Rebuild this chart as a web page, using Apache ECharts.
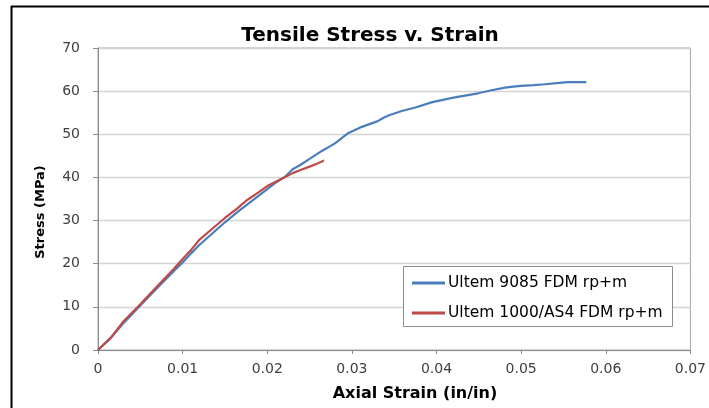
<!DOCTYPE html>
<html>
<head>
<meta charset="utf-8">
<script src="https://cdn.jsdelivr.net/npm/echarts@6/dist/echarts.min.js"></script>
<style>
html,body{margin:0;padding:0;background:#fff;overflow:hidden;}
#chart{width:709px;height:408px;}
</style>
</head>
<body>
<div id="chart"></div>
<script>
// Data
const titleText = 'Tensile Stress v. Strain';
const xAxisTitle = 'Axial Strain (in/in)';
const yAxisTitle = 'Stress (MPa)';
const seriesNames = ['Ultem 9085 FDM rp+m', 'Ultem 1000/AS4 FDM rp+m'];

const ultem9085Strain = [0, 0.0015, 0.003, 0.005, 0.007, 0.009, 0.010, 0.011, 0.012, 0.0135, 0.015, 0.0165, 0.0175, 0.019, 0.020, 0.021, 0.022, 0.023, 0.024, 0.025, 0.0265, 0.028, 0.0296, 0.031, 0.032, 0.033, 0.0338, 0.0344, 0.0359, 0.0375, 0.0394, 0.0402, 0.042, 0.0449, 0.0465, 0.0481, 0.0488, 0.050, 0.0515, 0.0528, 0.0545, 0.0555, 0.0577];
const ultem9085Stress = [0, 2.8, 6.2, 10.3, 14.4, 18.4, 20.3, 22.4, 24.4, 27.0, 29.6, 32.0, 33.5, 35.8, 37.3, 38.8, 40.0, 41.9, 43.0, 44.3, 46.2, 47.9, 50.3, 51.6, 52.3, 53.0, 53.9, 54.4, 55.4, 56.2, 57.4, 57.75, 58.5, 59.5, 60.2, 60.8, 61.0, 61.2, 61.4, 61.6, 61.9, 62.1, 62.1];

const ultem1000Strain = [0, 0.0015, 0.003, 0.005, 0.007, 0.009, 0.010, 0.011, 0.012, 0.0135, 0.015, 0.0165, 0.0175, 0.019, 0.020, 0.021, 0.022, 0.023, 0.024, 0.025, 0.026, 0.0267];
const ultem1000Stress = [0, 2.8, 6.6, 10.6, 14.8, 18.9, 21.1, 23.2, 25.6, 28.1, 30.6, 32.9, 34.6, 36.6, 38.0, 39.0, 40.0, 41.0, 41.8, 42.5, 43.3, 43.9];

const xTicks = {min: 0, max: 0.07, interval: 0.01};
const yTicks = {min: 0, max: 70, interval: 10};

const pair = (xs, ys) => xs.map((x, i) => [x, ys[i]]);

const chart = echarts.init(document.getElementById('chart'), null, {renderer: 'canvas'});
const labelFont = '"DejaVu Sans", sans-serif';

chart.setOption({
  animation: false,
  backgroundColor: '#ffffff',
  title: {
    text: titleText,
    left: 365, top: 21, textAlign: 'center',
    textStyle: {fontFamily: labelFont, fontSize: 20, fontWeight: 'bold', color: '#000'}
  },
  grid: {left: 98, right: 15, top: 48, bottom: 58, show: true, borderColor: '#a6a6a6', borderWidth: 1, backgroundColor: 'transparent'},
  xAxis: {
    type: 'value', min: xTicks.min, max: xTicks.max, interval: xTicks.interval,
    axisLine: {show: true, lineStyle: {color: '#8c8c8c', width: 1}},
    axisTick: {show: true, length: 4, lineStyle: {color: '#8c8c8c'}},
    splitLine: {show: false},
    axisLabel: {
      color: '#404040', fontFamily: labelFont, fontSize: 14, margin: 12,
      formatter: v => (Math.round(v * 100) / 100).toString()
    }
  },
  yAxis: {
    type: 'value', min: yTicks.min, max: yTicks.max, interval: yTicks.interval,
    axisLine: {show: true, lineStyle: {color: '#8c8c8c', width: 1}},
    axisTick: {show: true, length: 5, lineStyle: {color: '#8c8c8c'}},
    splitLine: {show: true, lineStyle: {color: '#d4d4d4', width: 1.3}},
    axisLabel: {color: '#404040', fontFamily: labelFont, fontSize: 14, margin: 18}
  },
  legend: {
    orient: 'vertical',
    left: 407, top: 269,
    itemWidth: 33, itemHeight: 3, itemGap: 12,
    icon: 'rect',
    textStyle: {fontFamily: labelFont, fontSize: 15.5, color: '#000', lineHeight: 18, padding: [0, 0, 0, -2]},
    data: seriesNames
  },
  graphic: [
    {type: 'rect', z: 1, shape: {x: 403.5, y: 266.5, width: 269, height: 60}, style: {fill: '#fff', stroke: '#8c8c8c', lineWidth: 1}},
    {type: 'line', z: 100, shape: {x1: 11, y1: 6.5, x2: 709, y2: 6.5}, style: {stroke: '#000', lineWidth: 2}},
    {type: 'line', z: 100, shape: {x1: 11.5, y1: 6, x2: 11.5, y2: 408}, style: {stroke: '#000', lineWidth: 2}},
    {type: 'text', z: 100, style: {text: xAxisTitle, x: 415, y: 394, textAlign: 'center', textVerticalAlign: 'middle', font: 'bold 16px "DejaVu Sans", sans-serif', fill: '#000'}},
    {type: 'text', z: 100, rotation: Math.PI / 2, x: 41, y: 212, style: {text: yAxisTitle, x: 0, y: 0, textAlign: 'center', textVerticalAlign: 'middle', font: 'bold 13px "DejaVu Sans", sans-serif', fill: '#000'}}
  ],
  series: [
    {
      name: seriesNames[0], type: 'line', data: pair(ultem9085Strain, ultem9085Stress),
      showSymbol: false, symbol: 'none', smooth: false,
      lineStyle: {color: '#4a7ebb', width: 2.2}, itemStyle: {color: '#4a7ebb'}, z: 3
    },
    {
      name: seriesNames[1], type: 'line', data: pair(ultem1000Strain, ultem1000Stress),
      showSymbol: false, symbol: 'none', smooth: false,
      lineStyle: {color: '#be4b48', width: 2.2}, itemStyle: {color: '#be4b48'}, z: 4
    }
  ]
});
</script>
</body>
</html>
